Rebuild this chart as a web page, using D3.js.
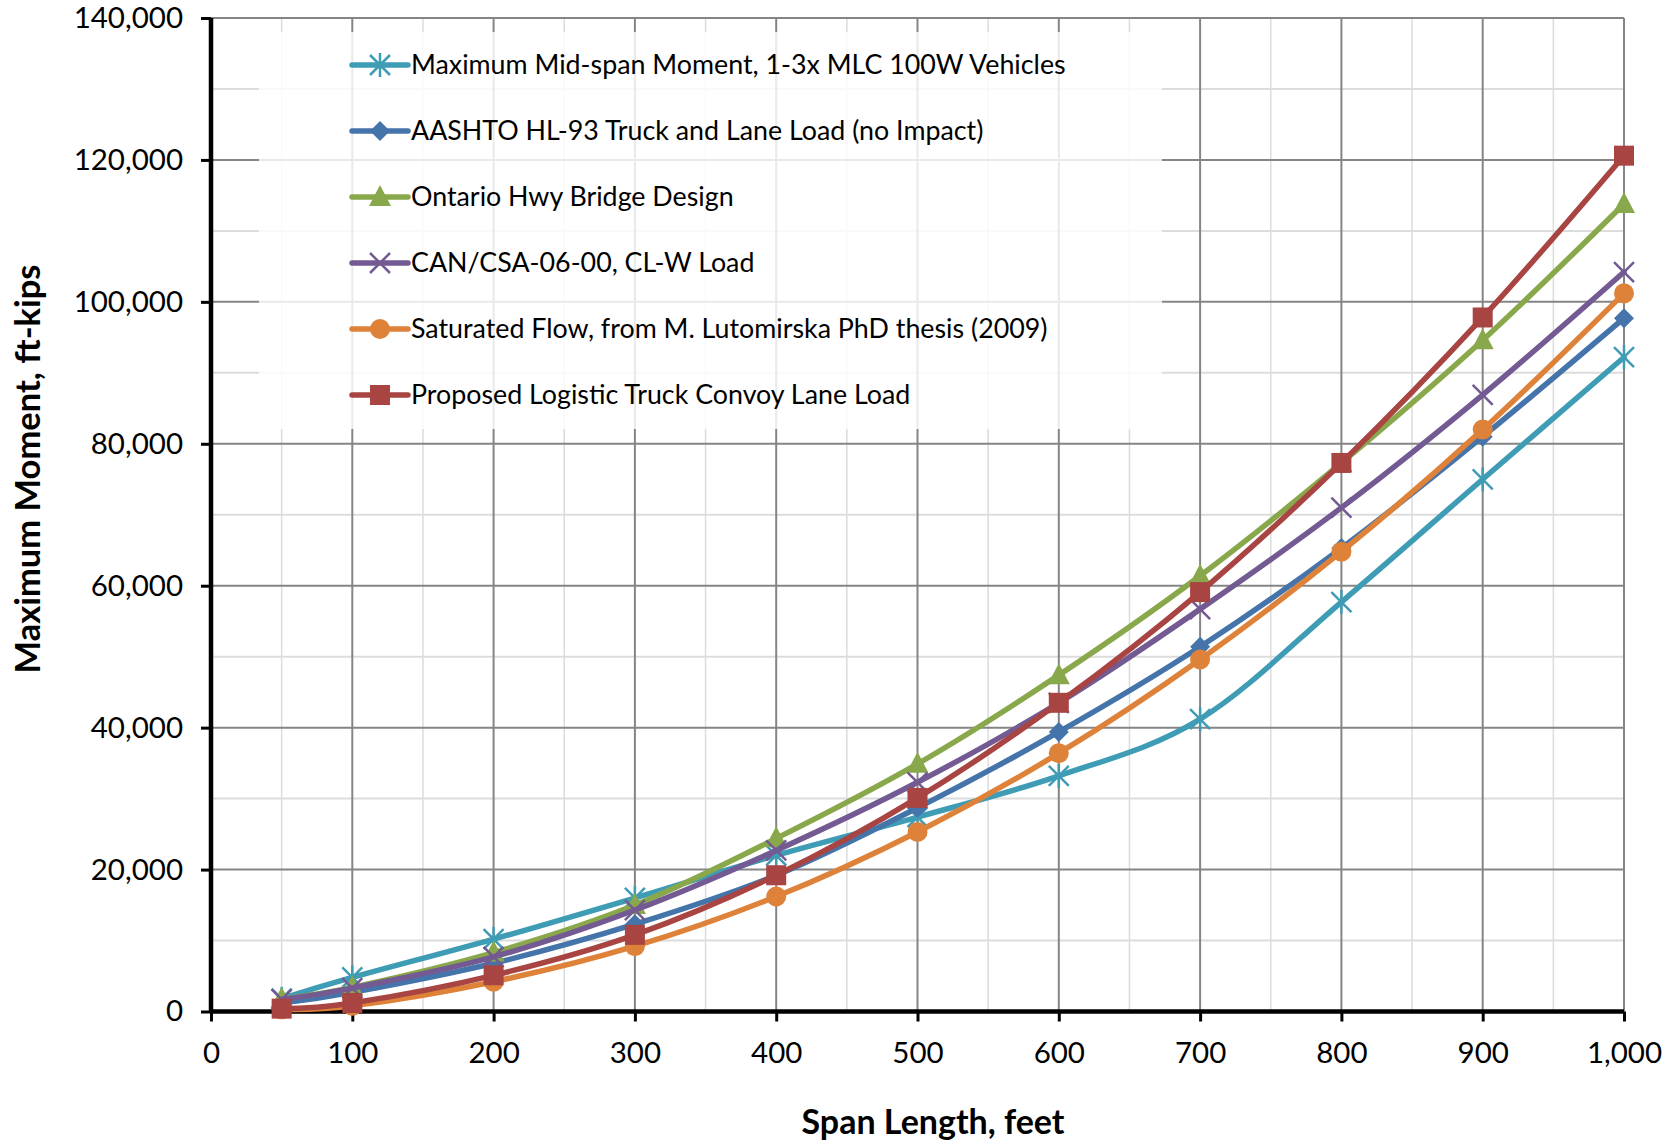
<!DOCTYPE html>
<html>
<head>
<meta charset="utf-8">
<script src="https://cdn.jsdelivr.net/npm/d3@7"></script>
<style>
  html, body { margin: 0; padding: 0; background: #fff; }
  svg { display: block; }
  text { font-family: Lato, "Open Sans", sans-serif; fill: #000; }
</style>
</head>
<body>
<svg id="chart" width="1673" height="1144"></svg>
<script>
// ---- data ----
const spans = [50, 100, 200, 300, 400, 500, 600, 700, 800, 900, 1000];
const seriesNames = [
  "Maximum Mid-span Moment, 1-3x MLC 100W Vehicles",
  "AASHTO HL-93 Truck and Lane Load (no Impact)",
  "Ontario Hwy Bridge Design",
  "CAN/CSA-06-00, CL-W Load",
  "Saturated Flow, from M. Lutomirska PhD thesis (2009)",
  "Proposed Logistic Truck Convoy Lane Load"
];
const midSpanMLC = [1800, 4800, 10200, 16000, 22000, 27400, 33200, 41200, 57700, 75000, 92200];
const aashtoHL93 = [1200, 2700, 6800, 12300, 19200, 28700, 39400, 51400, 65300, 81000, 97700];
const ontarioHwy = [1800, 3400, 8300, 15000, 24400, 34900, 47400, 61400, 77300, 94600, 113800];
const canCsaCLW  = [1700, 3300, 7700, 14300, 22700, 32300, 43500, 56700, 71000, 86900, 104200];
const saturated  = [300, 800, 4200, 9200, 16200, 25300, 36400, 49600, 64800, 82000, 101200];
const proposed   = [400, 1200, 5100, 10800, 19200, 30100, 43500, 59100, 77300, 97800, 120600];
const xTicks = [0, 100, 200, 300, 400, 500, 600, 700, 800, 900, 1000];
const yTicks = [0, 20000, 40000, 60000, 80000, 100000, 120000, 140000];
const xTitle = "Span Length, feet";
const yTitle = "Maximum Moment, ft-kips";

const seriesValues = [midSpanMLC, aashtoHL93, ontarioHwy, canCsaCLW, saturated, proposed];
const colors = ["#3f9cb5", "#4474aa", "#89a84b", "#735a93", "#de823a", "#a84442"];
const markers = ["asterisk", "diamond", "triangle", "cross", "circle", "square"];

// ---- layout ----
const svg = d3.select("#chart");
const x = d3.scaleLinear().domain([0, 1000]).range([211, 1624]);
const y = d3.scaleLinear().domain([0, 140000]).range([1011.5, 18]);
const fmt = d3.format(",");

// minor grid
const g = svg.append("g");
g.selectAll(".vminor").data(d3.range(50, 1000, 100)).enter().append("line")
  .attr("x1", d => x(d)).attr("x2", d => x(d)).attr("y1", y(140000)).attr("y2", y(0))
  .attr("stroke", "#dcdcdc").attr("stroke-width", 1.5);
g.selectAll(".hminor").data(d3.range(10000, 140000, 20000)).enter().append("line")
  .attr("x1", x(0)).attr("x2", x(1000)).attr("y1", d => y(d)).attr("y2", d => y(d))
  .attr("stroke", "#dcdcdc").attr("stroke-width", 2);
// major grid
g.selectAll(".vmajor").data(xTicks.slice(1)).enter().append("line")
  .attr("x1", d => x(d)).attr("x2", d => x(d)).attr("y1", y(140000)).attr("y2", y(0))
  .attr("stroke", "#858585").attr("stroke-width", 2);
g.selectAll(".hmajor").data(yTicks.slice(1)).enter().append("line")
  .attr("x1", x(0)).attr("x2", x(1000)).attr("y1", d => y(d)).attr("y2", d => y(d))
  .attr("stroke", "#858585").attr("stroke-width", 2);

// legend background (semi-transparent)
svg.append("rect").attr("x", 259).attr("y", 32).attr("width", 903).attr("height", 397)
  .attr("fill", "#fff").attr("opacity", 0.82);

// axes
const xAxis = d3.axisBottom(x).tickValues(xTicks).tickFormat(fmt).tickSize(10).tickPadding(21);
const yAxis = d3.axisLeft(y).tickValues(yTicks).tickFormat(fmt).tickSize(10).tickPadding(18);
const gx = svg.append("g").attr("transform", `translate(0,${y(0)})`).call(xAxis);
const gy = svg.append("g").attr("transform", `translate(${x(0)},0)`).call(yAxis);
[gx, gy].forEach(ax => {
  ax.select(".domain").attr("stroke", "#000").attr("stroke-width", 4.5);
  ax.selectAll(".tick line").attr("stroke", "#000").attr("stroke-width", 3);
  ax.selectAll(".tick text").attr("font-size", 29.5).attr("fill", "#000")
    .style("font-family", "Lato, sans-serif");
});
gx.select(".domain").attr("d", `M${x(0)},0H${x(1000)}`);
gy.select(".domain").attr("d", `M0,${y(140000)}V${y(0)}`);

// marker drawer
function drawMarker(sel, type, color) {
  if (type === "square") {
    sel.append("rect").attr("x", -10).attr("y", -10).attr("width", 20).attr("height", 20).attr("fill", color);
  } else if (type === "circle") {
    sel.append("circle").attr("r", 10).attr("fill", color);
  } else if (type === "diamond") {
    sel.append("path").attr("d", "M0,-10L10,0L0,10L-10,0Z").attr("fill", color);
  } else if (type === "triangle") {
    sel.append("path").attr("d", "M0,-12L11,9L-11,9Z").attr("fill", color);
  } else if (type === "cross") {
    sel.append("path").attr("d", "M-10,-10L10,10M-10,10L10,-10").attr("stroke", color).attr("stroke-width", 2.5).attr("fill", "none");
  } else if (type === "asterisk") {
    sel.append("path").attr("d", "M-10,-10L10,10M-10,10L10,-10M0,-12V12").attr("stroke", color).attr("stroke-width", 2.5).attr("fill", "none");
  }
}

// series
const line = d3.line().x((d, i) => x(spans[i])).y(d => y(d)).curve(d3.curveCardinal.tension(0));
seriesValues.forEach((vals, si) => {
  const sg = svg.append("g");
  sg.append("path").attr("d", line(vals)).attr("fill", "none").attr("stroke", colors[si])
    .attr("stroke-width", 5.5).attr("stroke-linecap", "round").attr("stroke-linejoin", "round");
  vals.forEach((v, i) => {
    const mg = sg.append("g").attr("transform", `translate(${x(spans[i])},${y(v)})`);
    drawMarker(mg, markers[si], colors[si]);
  });
});

// legend
const leg = svg.append("g");
seriesNames.forEach((name, i) => {
  const cy = 65 + i * 66;
  leg.append("line").attr("x1", 352).attr("x2", 408).attr("y1", cy).attr("y2", cy)
    .attr("stroke", colors[i]).attr("stroke-width", 5.5).attr("stroke-linecap", "round");
  const mg = leg.append("g").attr("transform", `translate(380,${cy})`);
  drawMarker(mg, markers[i], colors[i]);
  leg.append("text").attr("x", 411).attr("y", cy).attr("dy", "0.35em")
    .attr("font-size", 26.8).text(name);
});

// axis titles
svg.append("text").attr("x", 933).attr("y", 1122).attr("dy", "0.35em")
  .attr("text-anchor", "middle").attr("font-size", 34).attr("font-weight", "bold").text(xTitle);
svg.append("text").attr("transform", "translate(28,469) rotate(-90)").attr("dy", "0.35em")
  .attr("text-anchor", "middle").attr("font-size", 34.5).attr("font-weight", "bold").text(yTitle);
</script>
</body>
</html>
